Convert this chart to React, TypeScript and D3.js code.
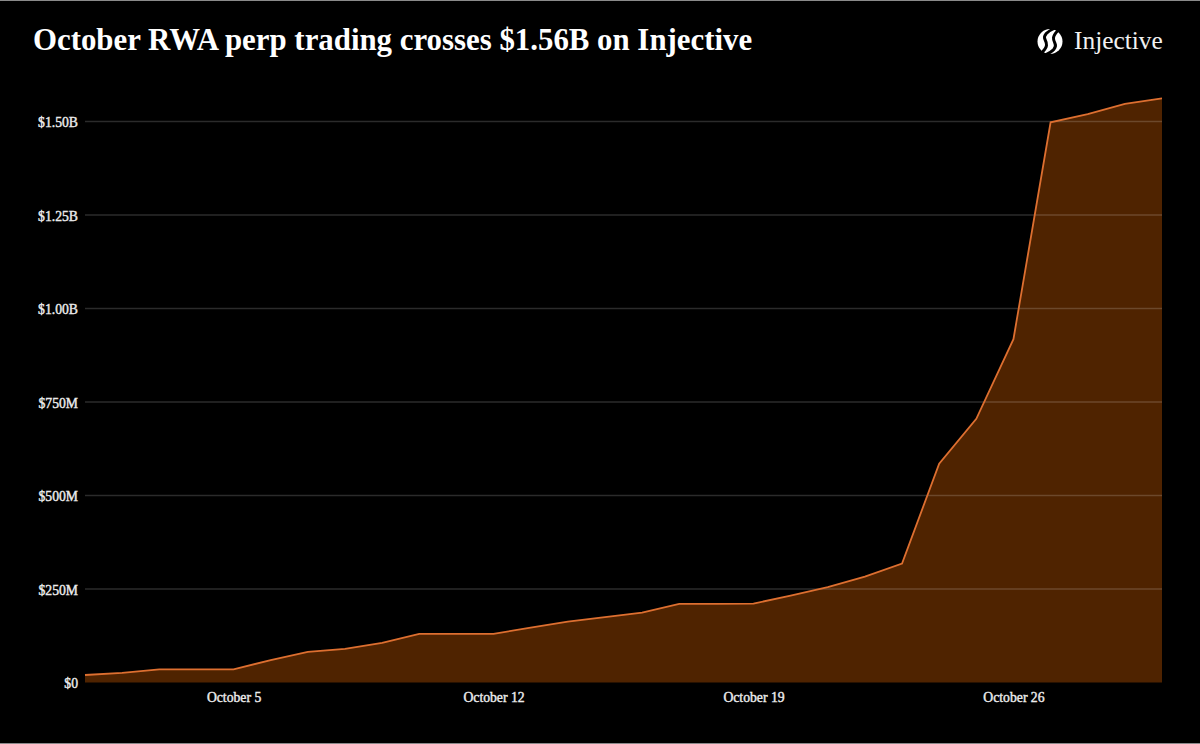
import { area, axisBottom, axisLeft, curveLinear, line, scaleLinear, scaleUtc, select } from "d3";
import { useEffect, useRef } from "react";

const days = Array.from({ length: 30 }, (_, i) => new Date(Date.UTC(2025, 9, i + 1)));

// cumulative volume in $M
const volume = [
  20, 26, 35, 35, 35, 60, 82, 90, 106, 130, 130, 130, 147, 163, 175, 187, 210, 210, 211, 232, 255,
  283, 318, 585, 705, 918, 1498, 1520, 1547, 1562,
];

const yTicks = [0, 250, 500, 750, 1000, 1250, 1500];
const yLabels = ["$0", "$250M", "$500M", "$750M", "$1.00B", "$1.25B", "$1.50B"];
const xTicks = [5, 12, 19, 26].map((d) => new Date(Date.UTC(2025, 9, d)));

const width = 1200;
const height = 744;
const serif = "'Liberation Serif', serif";

function App() {
  const axesRef = useRef<SVGGElement>(null);

  const x = scaleUtc().domain([days[0], days[days.length - 1]]).range([85, 1162]);
  const y = scaleLinear().domain([0, 1500]).range([682.5, 121.5]);

  const areaPath = area<number>()
    .x((_, i) => x(days[i]))
    .y0(y(0))
    .y1((d) => y(d))
    .curve(curveLinear);
  const linePath = line<number>()
    .x((_, i) => x(days[i]))
    .y((d) => y(d));

  useEffect(() => {
    const g = select(axesRef.current);
    g.selectAll("*").remove();

    const left = g
      .append("g")
      .attr("transform", "translate(85,0.7)")
      .call(
        axisLeft(y)
          .tickValues(yTicks)
          .tickSize(0)
          .tickPadding(7)
          .tickFormat((_, i) => yLabels[i])
      );
    left.select(".domain").remove();

    const bottom = g
      .append("g")
      .attr("transform", `translate(0,${y(0)})`)
      .call(
        axisBottom(x)
          .tickValues(xTicks)
          .tickSize(0)
          .tickPadding(10)
          .tickFormat((d) => `October ${(d as Date).getUTCDate()}`)
      );
    bottom.select(".domain").remove();

    g.selectAll("text")
      .attr("fill", "#ececec")
      .attr("stroke", "#ececec")
      .attr("stroke-width", 0.4)
      .style("font", `13.7px ${serif}`);
  }, []);

  return (
    <svg
      width={width}
      height={height}
      style={{ position: "absolute", left: 0, top: 0, background: "#000" }}
    >
      <rect x={0} y={0} width={width} height={1} fill="#8a8a8a" />
      <rect x={0} y={height - 1} width={width} height={1} fill="#8a8a8a" />

      <path d={areaPath(volume) ?? ""} fill="#4f2300" />
      {yTicks.slice(1).map((t) => (
        <line
          key={t}
          x1={85}
          x2={1162}
          y1={y(t)}
          y2={y(t)}
          stroke="#fff"
          strokeOpacity={0.17}
          strokeWidth={1.5}
        />
      ))}
      <path d={linePath(volume) ?? ""} fill="none" stroke="#dd6f30" strokeWidth={1.8} />
      <g ref={axesRef} />

      <text x={33} y={50} fill="#fff" style={{ font: `bold 30.85px ${serif}` }}>
        October RWA perp trading crosses $1.56B on Injective
      </text>

      {/* logo */}
      <g transform="translate(1050,41.5)">
        <circle r={12.5} fill="#fff" />
        <path
          d="M5,-13.5 C-3,-10 -7,-6 -5,-2 C-3,2 -2,5 -8,11"
          fill="none"
          stroke="#000"
          strokeWidth={3}
        />
        <path
          d="M-5,13.5 C3,10 7,6 5,2 C3,-2 2,-5 8,-11"
          fill="none"
          stroke="#000"
          strokeWidth={3}
        />
      </g>
      <text x={1074} y={49} fill="#f2f2f2" style={{ font: `25.4px ${serif}` }}>
        Injective
      </text>
    </svg>
  );
}

export default App;
